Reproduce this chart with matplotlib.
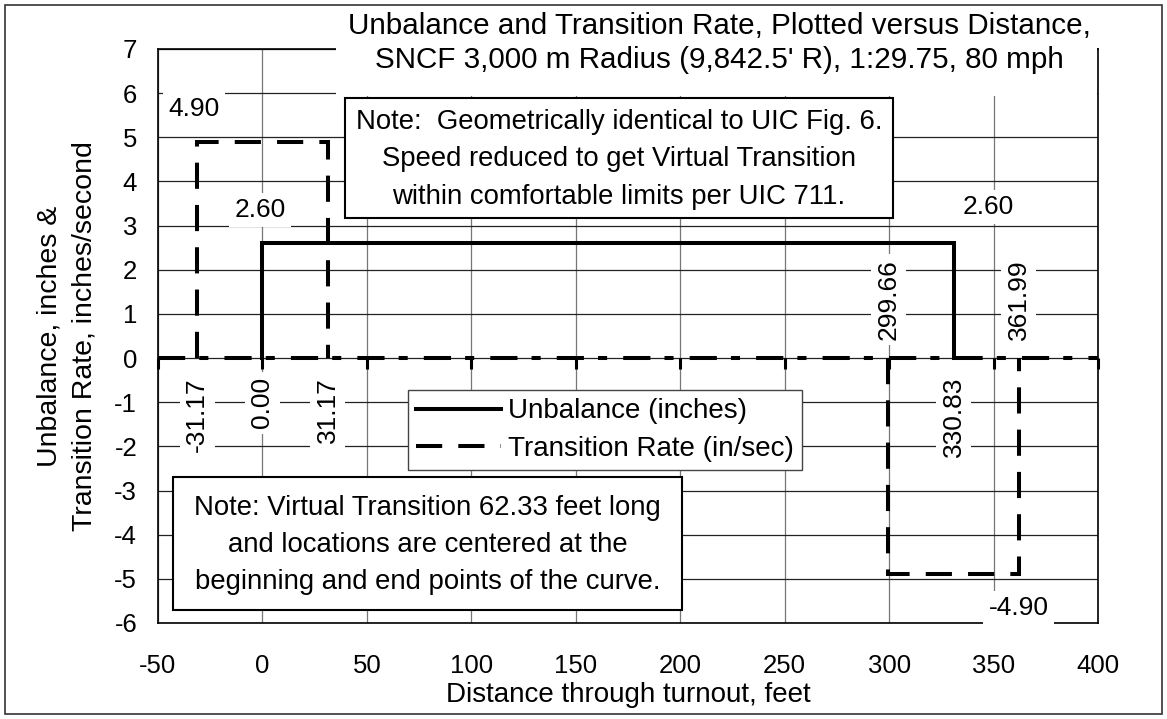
import numpy as np
import matplotlib.pyplot as plt
from matplotlib.patches import Rectangle

plt.rcParams['font.family'] = ['Liberation Sans', 'DejaVu Sans']
plt.rcParams['axes.unicode_minus'] = False

# --- Daten (Fuss / Zoll bzw. Zoll pro Sekunde) ---
UNB_X = [0.00, 0.00, 330.83, 330.83]
UNB_Y = [0.0, 2.60, 2.60, 0.0]

TR1_X = [-31.17, -31.17, 31.17, 31.17]
TR1_Y = [0.0, 4.90, 4.90, 0.0]
TR2_X = [299.66, 299.66, 361.99, 361.99]
TR2_Y = [0.0, -4.90, -4.90, 0.0]

X_TICKS = [-50, 0, 50, 100, 150, 200, 250, 300, 350, 400]
Y_TICKS = [-6, -5, -4, -3, -2, -1, 0, 1, 2, 3, 4, 5, 6, 7]

TITLE = ("Unbalance and Transition Rate, Plotted versus Distance,\n"
         "SNCF 3,000 m Radius (9,842.5' R), 1:29.75, 80 mph")
NOTE_1 = ("Note:  Geometrically identical to UIC Fig. 6.\n"
          "Speed reduced to get Virtual Transition\n"
          "within comfortable limits per UIC 711.")
NOTE_2 = ("Note: Virtual Transition 62.33 feet long\n"
          "and locations are centered at the\n"
          "beginning and end points of the curve.")

# --- Layout (Pixel) ---
W, H = 1167, 719
FS_TICK = 18.5
FS_LBL = 19
FS_AX = 20
FS_NOTE = 19.8
LW = 2.9


def fx(px):
    return px / W


def fy(py):
    return 1 - py / H


fig = plt.figure(figsize=(W / 100, H / 100), dpi=100)
ax = fig.add_axes([fx(158), fy(623), (1098 - 158) / W, (623 - 49) / H])

ax.set_xlim(-50, 400)
ax.set_ylim(-6, 7)
ax.set_xticks(X_TICKS)
ax.set_yticks(Y_TICKS)
ax.tick_params(length=0, labelsize=FS_TICK)
ax.tick_params(axis='x', pad=22.5)
ax.tick_params(axis='y', pad=15)
ax.set_axisbelow(True)
ax.xaxis.grid(True, color='#777777', lw=0.9)
ax.yaxis.grid(True, color='#222222', lw=0.9)
for s in ax.spines.values():
    s.set_linewidth(1.2)
    s.set_color('black')

# Nulllinie (Achse) mit Strich-Punkt und Teilstrichen
ax.axhline(0, color='black', lw=LW, ls=(0, (6.75, 3.5, 2.25, 4)), zorder=3)
ax.plot(X_TICKS, np.zeros(len(X_TICKS)), ls='none', marker=3, ms=8,
        mew=2.2, color='black', zorder=3, clip_on=False)

# Kurven
ax.plot(UNB_X, UNB_Y, color='black', lw=LW, solid_joinstyle='miter',
        label='Unbalance (inches)', zorder=4)
dash = (0, (6.5, 4))
ax.plot(TR1_X, TR1_Y, color='black', lw=LW, ls=dash,
        dash_joinstyle='miter', label='Transition Rate (in/sec)', zorder=4)
ax.plot(TR2_X, TR2_Y, color='black', lw=LW, ls=dash,
        dash_joinstyle='miter', zorder=4)

# Datenbeschriftungen
box = dict(boxstyle='square,pad=0.2', fc='white', ec='none')


def label(txt, x, y, dx, dy, rot=0, va='center'):
    ax.annotate(txt, (x, y), xytext=(dx, dy), textcoords='offset points',
                ha='center', va=va, rotation=rot, fontsize=FS_LBL, bbox=box,
                zorder=5, annotation_clip=False)


label(f"{TR1_Y[1]:.2f}", TR1_X[1], TR1_Y[1], -2.4, 23.8)
label(f"{UNB_Y[1]:.2f}", UNB_X[1], UNB_Y[1], -1.7, 24)
label(f"{UNB_Y[2]:.2f}", UNB_X[2], UNB_Y[2], 24.8, 26)
label(f"{TR2_Y[2]:.2f}", TR2_X[2], TR2_Y[2], 0, -24.2)

for x in [TR1_X[0], UNB_X[0], TR1_X[3], UNB_X[3]]:
    label(f"{x:.2f}", x, 0, 0, -13.7, rot=90, va='top')
for x in [TR2_X[0], TR2_X[3]]:
    label(f"{x:.2f}", x, 0, 0, 13, rot=90, va='bottom')

# Legende
leg = ax.legend(loc='upper left',
                bbox_to_anchor=((408 - 158) / 940, (623 - 390) / 574),
                fontsize=FS_AX, frameon=True, fancybox=False,
                edgecolor='#444444', framealpha=1, borderpad=0.3,
                labelspacing=0.42, handlelength=3.06, handletextpad=0.25,
                borderaxespad=0)
leg.get_frame().set_linewidth(1.0)
leg.set_zorder(6)

# Titel mit weissem Hintergrund
ax.add_patch(Rectangle((fx(336), fy(96)), (1097 - 336) / W, (96 - 8) / H,
                       transform=fig.transFigure, fc='white', ec='none',
                       zorder=3, clip_on=False))
ax.text(fx(719), fy(43), TITLE, transform=fig.transFigure, ha='center',
        va='center', fontsize=21.3, linespacing=1.23, zorder=6)

# Hinweise
for (x0, y0, x1, y1), txt in [((345, 98, 893, 218), NOTE_1),
                              ((173, 477, 682, 610), NOTE_2)]:
    ax.add_patch(Rectangle((fx(x0), fy(y1)), (x1 - x0) / W, (y1 - y0) / H,
                           transform=fig.transFigure, fc='white', ec='black',
                           lw=1.5, zorder=6, clip_on=False))
    ax.text(fx((x0 + x1) / 2), fy((y0 + y1) / 2 + 1.5), txt,
            transform=fig.transFigure, ha='center', va='center',
            fontsize=FS_NOTE, linespacing=1.56, zorder=7)

# Achsenbeschriftungen
ax.set_ylabel("Unbalance, inches &\nTransition Rate, inches/second",
              fontsize=20.5, linespacing=1.47)
ax.yaxis.set_label_coords((98 - 158) / 940, 0.5)
ax.set_xlabel("Distance through turnout, feet", fontsize=FS_AX)
ax.xaxis.set_label_coords(0.5, (623 - 682) / 574)

# Rahmen um die ganze Grafik
fig.add_artist(Rectangle((fx(5), fy(714)), (1162 - 5) / W, (714 - 5) / H,
                         transform=fig.transFigure, fill=False,
                         ec='#333333', lw=1.2))

fig.savefig('out.png', dpi=100)
